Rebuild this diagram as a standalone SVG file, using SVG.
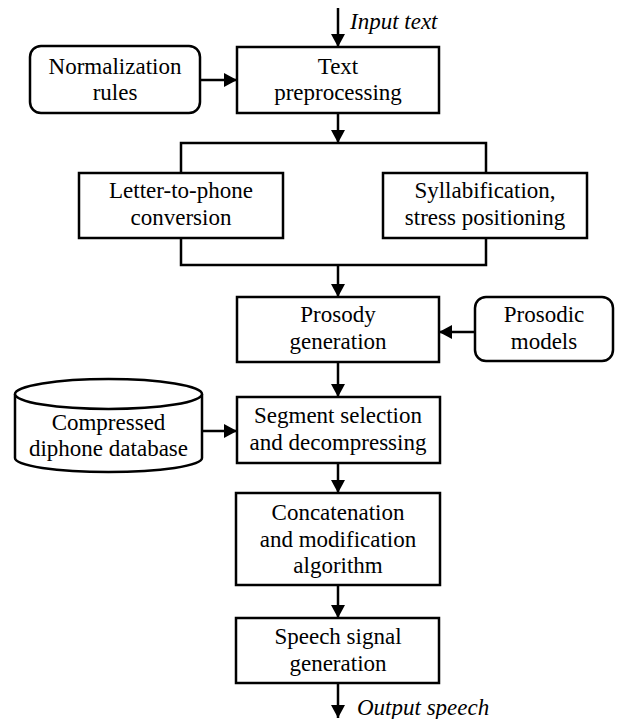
<svg xmlns="http://www.w3.org/2000/svg" width="617" height="719" viewBox="0 0 617 719">
<style>
.box{fill:#fff;stroke:#000;stroke-width:2.5}
.ln{fill:none;stroke:#000;stroke-width:2.5}
.t{font-family:'Liberation Serif','DejaVu Serif',serif;font-size:23px;fill:#000;text-anchor:middle}
.i{font-family:'Liberation Serif','DejaVu Serif',serif;font-size:23px;font-style:italic;fill:#000}
</style>
<defs>
<marker id="ah" markerUnits="userSpaceOnUse" markerWidth="13" markerHeight="14" refX="13" refY="7" orient="auto">
<path d="M0,0 L13,7 L0,14 z" fill="#000"/>
</marker>
</defs>
<rect width="617" height="719" fill="#fff"/>
<g id="connectors">
<line class="ln" x1="338" y1="8" x2="338" y2="47" marker-end="url(#ah)"/>
<line class="ln" x1="200" y1="80" x2="237" y2="80" marker-end="url(#ah)"/>
<line class="ln" x1="338" y1="113" x2="338" y2="143" marker-end="url(#ah)"/>
<polyline class="ln" points="181,173 181,143 486,143 486,173"/>
<polyline class="ln" points="181,238 181,265 486,265 486,238"/>
<line class="ln" x1="338" y1="265" x2="338" y2="297" marker-end="url(#ah)"/>
<line class="ln" x1="475" y1="332" x2="439" y2="332" marker-end="url(#ah)"/>
<line class="ln" x1="338" y1="362" x2="338" y2="397" marker-end="url(#ah)"/>
<line class="ln" x1="202" y1="431" x2="237" y2="431" marker-end="url(#ah)"/>
<line class="ln" x1="338" y1="463" x2="338" y2="493" marker-end="url(#ah)"/>
<line class="ln" x1="338" y1="585" x2="338" y2="618" marker-end="url(#ah)"/>
<line class="ln" x1="338" y1="683" x2="338" y2="718" marker-end="url(#ah)"/>
</g>
<g id="input-label"><text class="i" x="350" y="29" font-family="Liberation Serif">Input text</text></g>
<g id="normalization">
<rect class="box" x="30" y="46" width="170" height="67" rx="11"/>
<text class="t" x="115" y="73.5">Normalization</text>
<text class="t" x="115" y="100">rules</text>
</g>
<g id="text-preprocessing">
<rect class="box" x="237" y="47" width="202" height="66"/>
<text class="t" x="338" y="73.5">Text</text>
<text class="t" x="338" y="100">preprocessing</text>
</g>
<g id="letter-to-phone">
<rect class="box" x="79" y="173" width="204" height="65"/>
<text class="t" x="181" y="198">Letter-to-phone</text>
<text class="t" x="181" y="224.5">conversion</text>
</g>
<g id="syllabification">
<rect class="box" x="383" y="173" width="204" height="65"/>
<text class="t" x="485" y="198">Syllabification,</text>
<text class="t" x="485" y="224.5">stress positioning</text>
</g>
<g id="prosody-generation">
<rect class="box" x="237" y="297" width="202" height="65"/>
<text class="t" x="338" y="322">Prosody</text>
<text class="t" x="338" y="348.5">generation</text>
</g>
<g id="prosodic-models">
<rect class="box" x="475" y="297" width="138" height="64" rx="11"/>
<text class="t" x="544" y="322">Prosodic</text>
<text class="t" x="544" y="348.5">models</text>
</g>
<g id="diphone-database">
<path class="box" d="M15,394 L15,458 A93.5,14 0 0 0 202,458 L202,394"/>
<ellipse class="box" cx="108.5" cy="394" rx="93.5" ry="15"/>
<text class="t" x="108.5" y="430">Compressed</text>
<text class="t" x="108.5" y="456">diphone database</text>
</g>
<g id="segment-selection">
<rect class="box" x="237" y="397" width="203" height="66"/>
<text class="t" x="338" y="423">Segment selection</text>
<text class="t" x="338" y="449.5">and decompressing</text>
</g>
<g id="concatenation">
<rect class="box" x="236" y="493" width="204" height="92"/>
<text class="t" x="338" y="520">Concatenation</text>
<text class="t" x="338" y="546.5">and modification</text>
<text class="t" x="338" y="573">algorithm</text>
</g>
<g id="speech-signal">
<rect class="box" x="236" y="618" width="203" height="65"/>
<text class="t" x="338" y="644">Speech signal</text>
<text class="t" x="338" y="670.5">generation</text>
</g>
<g id="output-label"><text class="i" x="357" y="715">Output speech</text></g>
</svg>
